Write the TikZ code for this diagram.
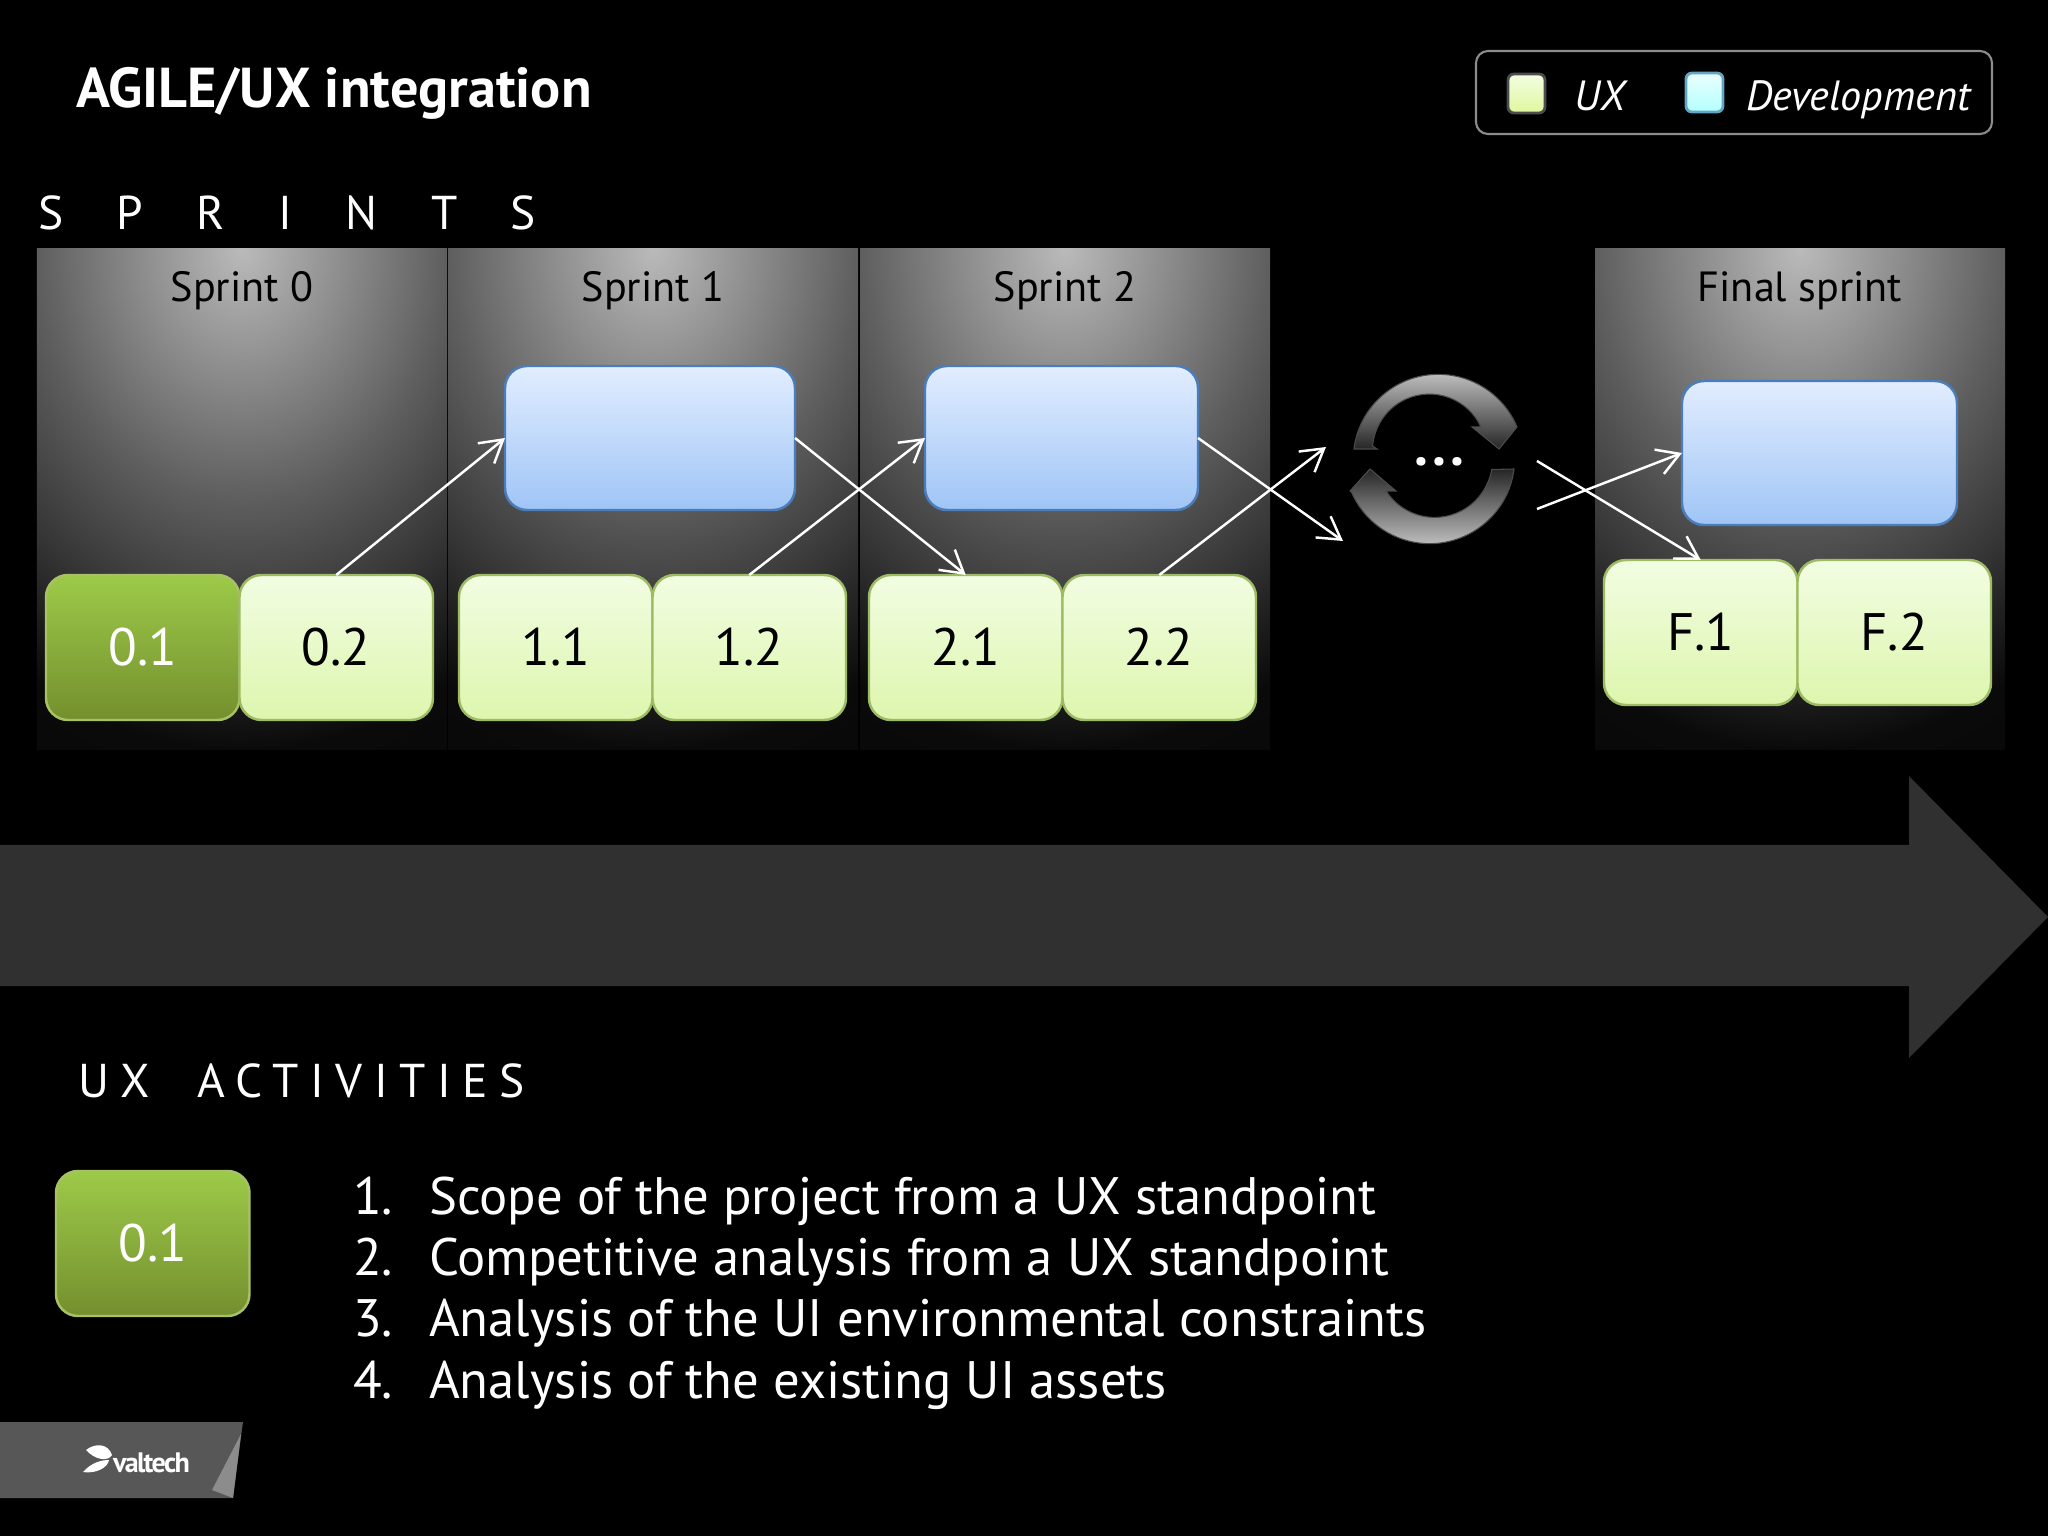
\documentclass[tikz,border=0pt]{standalone}
\usepackage{fontspec}
\setmainfont{PT Sans}
\newfontfamily\widefont[LetterSpace=86]{PT Sans}
\newfontfamily\trackfont[LetterSpace=24]{PT Sans}
\newfontfamily\dotfont[LetterSpace=6]{PT Sans}
\newfontfamily\logofont[LetterSpace=-6]{PT Sans}
\usetikzlibrary{arrows.meta, positioning}
\definecolor{cbar}{HTML}{303030}
\definecolor{cuxtop}{HTML}{F2FDE2}
\definecolor{cuxbot}{HTML}{DDF6AE}
\definecolor{cuxline}{HTML}{9DBB62}
\definecolor{cdevtop}{HTML}{E2EDFF}
\definecolor{cdevbot}{HTML}{9FC5F6}
\definecolor{cdevline}{HTML}{4B7DBB}
\definecolor{cgrntop}{HTML}{9DCA49}
\definecolor{cgrnbot}{HTML}{748F2E}
\definecolor{cgrnline}{HTML}{A6C264}
\definecolor{clogo}{HTML}{575757}
\definecolor{cglowa}{HTML}{BABABA}
\definecolor{cglowb}{HTML}{8C8C8C}
\definecolor{cglowc}{HTML}{5E5E5E}
\definecolor{cglowd}{HTML}{363636}
\definecolor{cglowe}{HTML}{0A0A0A}
\pgfdeclareradialshading{panelglow}{\pgfpointorigin}{color(0bp)=(cglowa); color(6.25bp)=(cglowb); color(12.5bp)=(cglowc); color(18.75bp)=(cglowd); color(25bp)=(cglowe); color(50bp)=(black)}
\tikzset{
  every picture/.style={line width=0.6pt},
  panel/.style={minimum width=4.1cm, minimum height=5.01cm, inner sep=0pt, outer sep=0pt,
    path picture={\fill[shading=panelglow] ([shift={(-4.1,5.01)}]path picture bounding box.north) rectangle ([shift={(4.1,-5.01)}]path picture bounding box.north);}},
  uxbox/.style={draw=cuxline, top color=cuxtop, bottom color=cuxbot, rounded corners=2.2mm, minimum width=1.935cm, minimum height=1.45cm, inner sep=0pt, outer sep=0pt, line width=0.7pt, font=\fontsize{15}{18}\selectfont},
  activebox/.style={uxbox, draw=cgrnline, top color=cgrntop, bottom color=cgrnbot, text=white},
  devbox/.style={draw=cdevline, top color=cdevtop, bottom color=cdevbot, rounded corners=2.2mm, minimum width=#1, minimum height=1.44cm, inner sep=0pt, outer sep=0pt, line width=0.7pt},
  flow/.style={-{Straight Barb[length=2.2mm, width=2.6mm]}, draw=white, line width=0.7pt},
  sprintname/.style={text=black, font=\fontsize{12}{14}\selectfont},
  heading/.style={text=white, inner sep=0pt, anchor=base west},
  swatch/.style={rounded corners=0.6mm, minimum width=0.37cm, minimum height=0.39cm, inner sep=0pt, line width=0.8pt},
  cycle/.style={draw=black!70!white, line width=0.3pt},
}

\begin{document}
\begin{tikzpicture}
  \useasboundingbox (0,0) rectangle (20.48,-15.36);
  \fill[black] (0,0) rectangle (20.48,-15.36);
  % header
  \node[heading, font=\fontsize{16}{18}\selectfont\bfseries] (title) at (0.75,-1.08) {AGILE/UX integration};
  \node[draw=black!45!white, rounded corners=1.2mm, minimum width=5.16cm, minimum height=0.83cm, inner sep=0pt, line width=0.6pt] (legend) at (17.34,-0.925) {};
  \node[swatch, draw=black!70!white, top color=cuxtop, bottom color=cuxbot!90!yellow] (uxkey) at (15.265,-0.935) {};
  \node[heading, font=\fontsize{12}{14}\selectfont\itshape] (uxtext) at (15.73,-1.11) {UX};
  \node[swatch, draw=cyan!50!gray, top color=cyan!8, bottom color=cyan!30] (devkey) at (17.045,-0.925) {};
  \node[heading, font=\fontsize{12}{14}\selectfont\itshape] (devtext) at (17.45,-1.11) {Development};
  \node[heading, font=\fontsize{13.5}{16}\selectfont\widefont] (sprints) at (0.37,-2.3) {S P R I N T S};
  % sprint columns
  \node[panel, anchor=north west] (s0) at (0.37,-2.49) {};
  \node[panel, right=0.01cm of s0] (s1) {};
  \node[panel, right=0.02cm of s1] (s2) {};
  \node[panel, anchor=north west] (sf) at (15.95,-2.49) {};
  \node[sprintname, below=0.1cm of s0.north] (n0) {Sprint 0};
  \node[sprintname, below=0.1cm of s1.north] (n1) {Sprint 1};
  \node[sprintname, below=0.1cm of s2.north] (n2) {Sprint 2};
  \node[sprintname, below=0.1cm of sf.north] (nf) {Final sprint};
  % boxes
  \node[activebox, anchor=north west] (b01) at (0.46,-5.75) {0.1};
  \node[uxbox, right=0cm of b01] (b02) {0.2};
  \node[uxbox, anchor=north west] (b11) at (4.59,-5.75) {1.1};
  \node[uxbox, right=0cm of b11] (b12) {1.2};
  \node[uxbox, anchor=north west] (b21) at (8.69,-5.75) {2.1};
  \node[uxbox, right=0cm of b21] (b22) {2.2};
  \node[uxbox, anchor=north west] (bf1) at (16.04,-5.6) {F.1};
  \node[uxbox, right=0cm of bf1] (bf2) {F.2};
  \node[devbox=2.9cm, anchor=north west] (d1) at (5.05,-3.66) {};
  \node[devbox=2.73cm, anchor=north west] (d2) at (9.25,-3.66) {};
  \node[devbox=2.75cm, anchor=north west] (df) at (16.82,-3.81) {};
  % cycle symbol
  \coordinate (in1) at (13.26,-4.47);
  \coordinate (in2) at (13.43,-5.41);
  \coordinate (out1) at (15.37,-4.61);
  \coordinate (out2) at (15.37,-5.09);
  \begin{scope}[shift={(14.33,-4.59)}]
    \path[cycle, top color=black!22!white, bottom color=black!85!white] (-0.79,0.1) arc[start angle=173, end angle=25, radius=0.85] -- (0.84,0.32) -- (0.66,0.1) -- (0.39,0.32) -- (0.48,0.32) arc[start angle=25, end angle=175, radius=0.57] -- (-0.56,0.1) -- cycle;
    \path[cycle, bottom color=black!22!white, top color=black!85!white] (0.81,-0.1) arc[start angle=-7, end angle=-157, radius=0.85] -- (-0.83,-0.32) -- (-0.63,-0.1) -- (-0.37,-0.32) -- (-0.47,-0.32) arc[start angle=-147, end angle=-10, radius=0.58] -- cycle;
  \end{scope}
  \node[text=white, inner sep=0pt, font=\fontsize{16}{18}\selectfont\bfseries\dotfont] (more) at (14.39,-4.62) {...};
  % flow between the columns
  \draw[flow] (b02.north) -- (d1.west);
  \draw[flow] (d1.east) -- (b21.north);
  \draw[flow] (b12.north) -- (d2.west);
  \draw[flow] (d2.east) -- (in2);
  \draw[flow] (b22.north) -- (in1);
  \draw[flow] (out1) -- (bf1.north);
  \draw[flow] (out2) -- (df.west);
  % timeline
  \fill[cbar] (0,-8.45) -- (19.09,-8.45) -- (19.09,-7.76) -- (20.48,-9.17) -- (19.09,-10.58) -- (19.09,-9.86) -- (0,-9.86) -- cycle;
  % activities
  \node[heading, font=\fontsize{13.5}{16}\selectfont\trackfont] (uxact) at (0.77,-10.97) {UX\ \ ACTIVITIES};
  \node[activebox, anchor=north west] (b01big) at (0.56,-11.71) {0.1};
  \node[text=white, inner sep=0pt, anchor=north west, align=left, font=\fontsize{15}{17.4}\selectfont] (list) at (3.52,-11.76) {\makebox[0.76cm][l]{1.}Scope of the project from a UX standpoint\\\makebox[0.76cm][l]{2.}Competitive analysis from a UX standpoint\\\makebox[0.76cm][l]{3.}Analysis of the UI environmental constraints\\\makebox[0.76cm][l]{4.}Analysis of the existing UI assets};
  % logo
  \fill[clogo] (0,-14.22) -- (2.43,-14.22) -- (2.33,-14.98) -- (0,-14.98) -- cycle;
  \fill[black!45!white] (2.41,-14.34) -- (2.12,-14.9) -- (2.33,-14.98) -- cycle;
  \fill[white] (0.86,-14.5) .. controls (0.95,-14.43) and (1.08,-14.43) .. (1.12,-14.55) .. controls (1.08,-14.62) and (0.95,-14.6) .. (0.86,-14.5) -- cycle;
  \fill[white] (0.83,-14.72) .. controls (0.92,-14.62) and (1.02,-14.6) .. (1.09,-14.6) .. controls (1.08,-14.68) and (0.95,-14.74) .. (0.83,-14.72) -- cycle;
  \node[heading, font=\fontsize{8}{10}\selectfont\bfseries\logofont] (logo) at (1.12,-14.72) {valtech};
\end{tikzpicture}
\end{document}
